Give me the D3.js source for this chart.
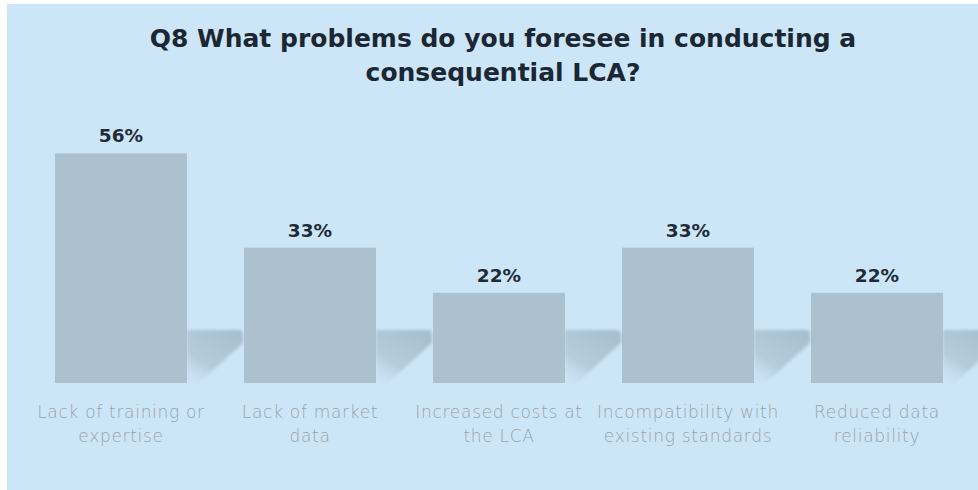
<!DOCTYPE html>
<html>
<head>
<meta charset="utf-8">
<script src="https://cdn.jsdelivr.net/npm/d3@7"></script>
<style>
  html, body { margin: 0; padding: 0; background: #ffffff; }
  svg { display: block; }
</style>
</head>
<body>
<svg id="chart" width="978" height="490"></svg>
<script>
// Survey answers: share of respondents naming each problem
const categories = [
  ["Lack of training or", "expertise"],
  ["Lack of market", "data"],
  ["Increased costs at", "the LCA"],
  ["Incompatibility with", "existing standards"],
  ["Reduced data", "reliability"]
];
const values = [56, 33, 22, 33, 22];
const valueLabels = ["56%", "33%", "22%", "33%", "22%"];
const titleLines = ["Q8 What problems do you foresee in conducting a", "consequential LCA?"];

const W = 978, H = 490;
const svg = d3.select("#chart");

// panel background
svg.append("rect")
  .attr("x", 7).attr("y", 4)
  .attr("width", W - 7).attr("height", H - 4)
  .attr("fill", "#cde6f7");

const defs = svg.append("defs");
const grad = defs.append("linearGradient")
  .attr("id", "shadowGrad")
  .attr("x1", "0.8").attr("y1", "0")
  .attr("x2", "0.1").attr("y2", "1");
grad.append("stop").attr("offset", "0%").attr("stop-color", "#a3bacb").attr("stop-opacity", 0.9);
grad.append("stop").attr("offset", "65%").attr("stop-color", "#abc1d1").attr("stop-opacity", 0.7);
grad.append("stop").attr("offset", "100%").attr("stop-color", "#c6ddee").attr("stop-opacity", 0.3);
defs.append("filter").attr("id", "soft")
  .append("feGaussianBlur").attr("stdDeviation", 1.5);

const x = d3.scaleBand()
  .domain(d3.range(categories.length))
  .range([26.5, 971.5])
  .paddingInner(0.3016)
  .paddingOuter(0.1508);

const y = d3.scaleLinear().domain([0, 100]).range([383, -27]);
const base = y(0);

const g = svg.append("g");

// drop shadows to the right of each bar
g.selectAll("path.shadow")
  .data(values)
  .join("path")
  .attr("class", "shadow")
  .attr("filter", "url(#soft)")
  .attr("fill", "url(#shadowGrad)")
  .attr("d", (d, i) => {
    const xr = x(i) + x.bandwidth();
    return `M${xr},${base - 53} L${xr + 52},${base - 53} Q${xr + 56},${base - 53} ${xr + 56},${base - 48} L${xr + 56},${base - 40} L${xr + 12},${base} L${xr},${base} Z`;
  });

// bars
g.selectAll("rect.bar")
  .data(values)
  .join("rect")
  .attr("class", "bar")
  .attr("x", (d, i) => x(i))
  .attr("y", d => y(d))
  .attr("width", x.bandwidth())
  .attr("height", d => base - y(d))
  .attr("fill", "#abc1d0");

// value labels
g.selectAll("text.val")
  .data(values)
  .join("text")
  .attr("class", "val")
  .attr("x", (d, i) => x(i) + x.bandwidth() / 2)
  .attr("y", d => y(d) - 11)
  .attr("text-anchor", "middle")
  .attr("font-family", "'DejaVu Sans', sans-serif")
  .attr("font-weight", "bold")
  .attr("font-size", 18.5)
  .attr("fill", "#1f2c38")
  .text((d, i) => valueLabels[i]);

// category labels (two lines each)
const cat = g.selectAll("text.cat")
  .data(categories)
  .join("text")
  .attr("class", "cat")
  .attr("text-anchor", "middle")
  .attr("font-family", "'DejaVu Sans', sans-serif")
  .attr("font-weight", 200)
  .attr("font-size", 17)
  .attr("letter-spacing", 0.7)
  .attr("fill", "#95a2ac");
cat.selectAll("tspan")
  .data((d, i) => d.map(t => ({ t, i })))
  .join("tspan")
  .attr("x", d => x(d.i) + x.bandwidth() / 2)
  .attr("y", (d, j) => 418 + j * 24)
  .text(d => d.t);

// title
svg.append("text")
  .attr("text-anchor", "middle")
  .attr("font-family", "'DejaVu Sans', sans-serif")
  .attr("font-weight", "bold")
  .attr("font-size", 25)
  .attr("fill", "#1b2733")
  .selectAll("tspan")
  .data(titleLines)
  .join("tspan")
  .attr("x", 503)
  .attr("y", (d, i) => 47 + i * 34)
  .text(d => d);
</script>
</body>
</html>
